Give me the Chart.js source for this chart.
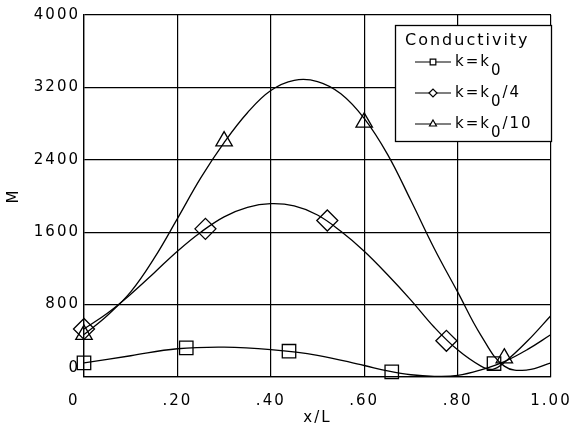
<!DOCTYPE html>
<html>
<head>
<meta charset="utf-8">
<script src="https://cdn.jsdelivr.net/npm/chart.js@4/dist/chart.umd.min.js"></script>
<style>
  html, body { margin: 0; padding: 0; background: #fff; }
</style>
</head>
<body>
<canvas id="chart" width="573" height="433"></canvas>
<script>
// axis tick labels
var xTickLabels = ['0', '.20', '.40', '.60', '.80', '1.00'];
var yTickLabels = ['0', '800', '1600', '2400', '3200', '4000'];

// fitted curve, k = k0
var curveX_k0 = [0, 0.1, 0.2, 0.3, 0.4, 0.5, 0.6, 0.65, 0.7, 0.75, 0.8, 0.85, 0.9, 0.95, 1.0];
var curveY_k0 = [156, 235, 312, 330, 303, 240, 127, 68, 25, 8, 17, 78, 170, 305, 469];
// fitted curve, k = k0/4
var curveX_k4 = [0, 0.05, 0.1, 0.15, 0.2, 0.25, 0.3, 0.35, 0.4, 0.45, 0.5, 0.55, 0.6, 0.65, 0.7, 0.75, 0.8, 0.85, 0.875, 0.9, 0.95, 1.0];
var curveY_k4 = [531, 705, 915, 1150, 1390, 1600, 1770, 1875, 1915, 1890, 1790, 1610, 1390, 1130, 850, 550, 300, 120, 85, 160, 400, 680];
// fitted curve, k = k0/10
var curveX_k10 = [0, 0.05, 0.1, 0.15, 0.2, 0.25, 0.3, 0.35, 0.4, 0.45, 0.5, 0.55, 0.6, 0.65, 0.7, 0.75, 0.8, 0.85, 0.9, 0.95, 1.0];
var curveY_k10 = [469, 680, 940, 1310, 1750, 2200, 2590, 2920, 3165, 3278, 3265, 3130, 2858, 2460, 1950, 1420, 940, 460, 120, 78, 157];

// computed points (markers)
var markX_k0 = [0, 0.219, 0.439, 0.659, 0.878];
var markY_k0 = [156, 322, 285, 57, 149];
var markX_k4 = [0, 0.26, 0.521, 0.776];
var markY_k4 = [531, 1637, 1729, 400];
var markX_k10 = [0, 0.3, 0.6, 0.9];
var markY_k10 = [469, 2607, 2814, 208];

// legend text: main, subscript, tail
var legendTitle = 'Conductivity';
var legendMain = ['k=k', 'k=k', 'k=k'];
var legendSub = ['0', '0', '0'];
var legendTail = ['', '/4', '/10'];
var legendStyles = ['rect', 'rectRot', 'triangle'];

function toPoints(xs, ys) {
    return xs.map(function (x, i) { return { x: x, y: ys[i] }; });
}

var fontFamily = '"DejaVu Sans", sans-serif';

function curveSet(xs, ys) {
    return {
        data: toPoints(xs, ys),
        borderColor: '#000',
        borderWidth: 1.3,
        pointRadius: 0,
        tension: 0.4,
        fill: false
    };
}

function markerSet(xs, ys, style) {
    return {
        data: toPoints(xs, ys),
        showLine: false,
        pointStyle: style,
        pointRadius: style == 'rectRot' ? 10.5 : 9.5,
        pointBorderColor: '#000',
        pointBackgroundColor: 'rgba(0,0,0,0)',
        pointBorderWidth: 1.3,
        clip: false
    };
}

// spaced-out plotter lettering
var letterSpacingPlugin = {
    id: 'letterSpacing',
    beforeDraw: function (chart) {
        chart.ctx.letterSpacing = '2px';
    }
};

// boxed legend in the upper right corner
var legendBoxPlugin = {
    id: 'legendBox',
    afterDraw: function (chart) {
        var ctx = chart.ctx;
        var area = chart.chartArea;
        var w = 156, h = 116;
        var left = area.right - w, top = area.top + 10;
        ctx.save();
        ctx.letterSpacing = '2px';
        ctx.fillStyle = '#fff';
        ctx.fillRect(left, top, w, h);
        ctx.strokeStyle = '#000';
        ctx.lineWidth = 1.3;
        ctx.strokeRect(left + 0.5, top + 0.5, w, h);

        ctx.fillStyle = '#000';
        ctx.textBaseline = 'middle';
        ctx.font = '16px ' + fontFamily;
        ctx.fillText(legendTitle, left + 10, top + 16);

        ctx.font = '15px ' + fontFamily;
        for (var i = 0; i < legendMain.length; i++) {
            var y = top + 37 + i * 31;
            ctx.beginPath();
            ctx.moveTo(left + 20, y);
            ctx.lineTo(left + 56, y);
            ctx.lineWidth = 1.2;
            ctx.stroke();
            ctx.fillStyle = '#fff';
            Chart.helpers.drawPoint(ctx, { pointStyle: legendStyles[i], radius: 4, rotation: 0, borderWidth: 1.2 }, left + 38, y);
            ctx.fillStyle = '#000';
            var tx = left + 60;
            ctx.fillText(legendMain[i], tx, y);
            tx += ctx.measureText(legendMain[i]).width;
            ctx.fillText(legendSub[i], tx, y + 9);
            tx += ctx.measureText(legendSub[i]).width;
            ctx.fillText(legendTail[i], tx, y);
        }
        ctx.restore();
    }
};

var ctx = document.getElementById('chart');

var chart = new Chart(ctx, {
    type: 'line',
    data: {
        datasets: [
            curveSet(curveX_k0, curveY_k0),
            curveSet(curveX_k4, curveY_k4),
            curveSet(curveX_k10, curveY_k10),
            markerSet(markX_k0, markY_k0, 'rect'),
            markerSet(markX_k4, markY_k4, 'rectRot'),
            markerSet(markX_k10, markY_k10, 'triangle')
        ]
    },
    options: {
        responsive: false,
        animation: false,
        devicePixelRatio: 1,
        layout: { padding: { top: 15, right: 22, left: 0, bottom: 0 } },
        plugins: {
            legend: { display: false },
            tooltip: { enabled: false }
        },
        scales: {
            x: {
                type: 'linear',
                min: 0,
                max: 1,
                afterFit: function (scale) {
                    scale.height = 56;
                    scale.paddingLeft = 0;
                    scale.paddingRight = 0;
                },
                ticks: {
                    stepSize: 0.2,
                    padding: 15,
                    maxRotation: 0,
                    autoSkip: false,
                    color: '#000',
                    font: { family: fontFamily, size: 15 },
                    callback: function (value, index) {
                        return index == 0 ? xTickLabels[index] + '   ' : xTickLabels[index];
                    }
                },
                grid: { color: '#000', lineWidth: 1.2, drawTicks: false },
                border: { color: '#000', width: 1.3 },
                title: {
                    display: true,
                    text: 'x/L',
                    color: '#000',
                    font: { family: fontFamily, size: 15 },
                    padding: { top: 0, bottom: 6 }
                }
            },
            y: {
                type: 'linear',
                min: 0,
                max: 4000,
                afterFit: function (scale) { scale.width = 84; },
                ticks: {
                    stepSize: 800,
                    padding: 4,
                    color: '#000',
                    font: { family: fontFamily, size: 15 },
                    callback: function (value, index) {
                        return index == 0 ? [yTickLabels[index], ''] : yTickLabels[index];
                    }
                },
                grid: { color: '#000', lineWidth: 1.2, drawTicks: false },
                border: { color: '#000', width: 1.3 },
                title: {
                    display: true,
                    text: 'M',
                    color: '#000',
                    font: { family: fontFamily, size: 15 },
                    padding: { top: 5, bottom: 0 }
                }
            }
        }
    },
    plugins: [letterSpacingPlugin, legendBoxPlugin]
});
</script>
</body>
</html>
